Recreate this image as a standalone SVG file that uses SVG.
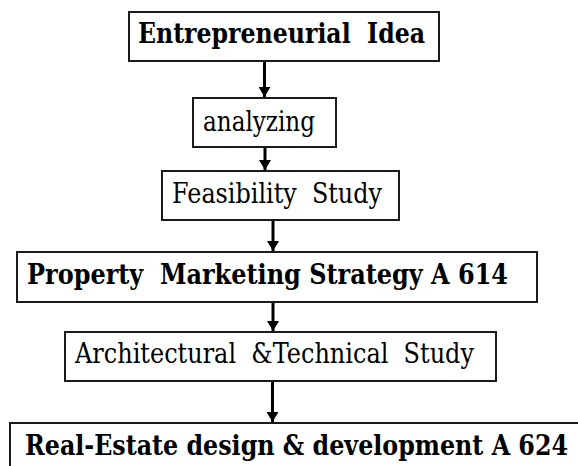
<svg xmlns="http://www.w3.org/2000/svg" width="578" height="466" viewBox="0 0 578 466">
<defs>
<style>
.box{fill:#fff;stroke:#1a1a1a;stroke-width:2}
.t{font-family:'DejaVu Serif',serif;font-size:27px;fill:#000;white-space:pre}
.b{font-weight:bold}
.c{stroke:#000;stroke-width:3;fill:none}
</style>
<marker id="ah" viewBox="0 0 10 12" refX="10" refY="6" markerWidth="10" markerHeight="12" markerUnits="userSpaceOnUse" orient="auto">
<path d="M0,0 L10,6 L0,12 Z" fill="#000"/>
</marker>
</defs>
<rect width="578" height="466" fill="#fff"/>
<g id="connectors">
<line class="c" x1="264.5" y1="61" x2="264.5" y2="97" marker-end="url(#ah)"/>
<line class="c" x1="265" y1="147" x2="265" y2="170" marker-end="url(#ah)"/>
<line class="c" x1="273" y1="220" x2="273" y2="251" marker-end="url(#ah)"/>
<line class="c" x1="273" y1="302" x2="273" y2="331" marker-end="url(#ah)"/>
<line class="c" x1="272.5" y1="381" x2="272.5" y2="422" marker-end="url(#ah)"/>
</g>
<g id="n1">
<rect class="box" x="129" y="12" width="310" height="49"/>
<text class="t b" x="138" y="43" textLength="287" lengthAdjust="spacingAndGlyphs">Entrepreneurial  Idea</text>
</g>
<g id="n2">
<rect class="box" x="193" y="98" width="143" height="49"/>
<text class="t" x="203" y="131" textLength="112" lengthAdjust="spacingAndGlyphs">analyzing</text>
</g>
<g id="n3">
<rect class="box" x="162" y="171" width="237" height="49"/>
<text class="t" x="172" y="203" textLength="210" lengthAdjust="spacingAndGlyphs">Feasibility  Study</text>
</g>
<g id="n4">
<rect class="box" x="17" y="252" width="520" height="50"/>
<text class="t b" x="27" y="284" textLength="481" lengthAdjust="spacingAndGlyphs">Property  Marketing Strategy A 614</text>
</g>
<g id="n5">
<rect class="box" x="65" y="332" width="431" height="49"/>
<text class="t" x="75" y="363" textLength="399" lengthAdjust="spacingAndGlyphs">Architectural  &amp;Technical  Study</text>
</g>
<g id="n6">
<rect class="box" x="10" y="423" width="580" height="60"/>
<text class="t b" x="25" y="455" textLength="543" lengthAdjust="spacingAndGlyphs">Real-Estate design &amp; development A 624</text>
</g>
</svg>
